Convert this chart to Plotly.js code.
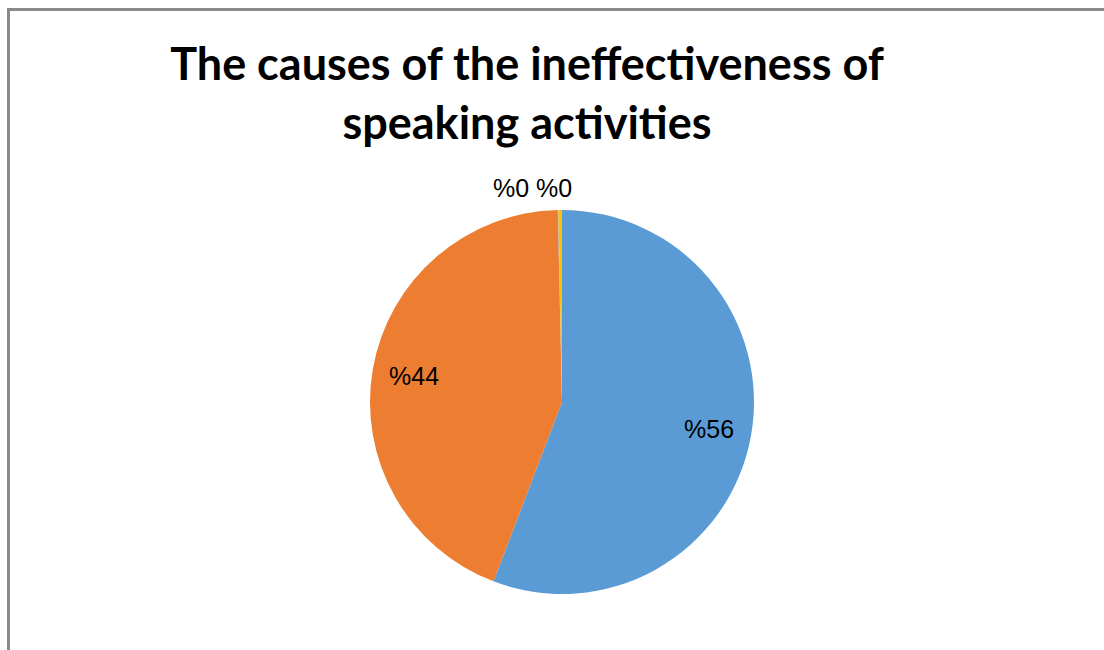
<!DOCTYPE html>
<html>
<head>
<meta charset="utf-8">
<script src="https://cdn.plot.ly/plotly-3.0.1.min.js"></script>
<style>
  html, body { margin: 0; padding: 0; background: #ffffff; overflow: hidden; }
  #frame { position: absolute; left: 7px; top: 8px; width: 1200px; height: 700px;
           border-left: 3px solid #8a8a8a; border-top: 3px solid #8a8a8a; box-sizing: border-box; }
  #chart { position: absolute; left: 0; top: 0; width: 1104px; height: 650px; }
</style>
</head>
<body>
<div id="frame"></div>
<div id="chart"></div>
<script>
const categories = ['Cause 1', 'Cause 2', 'Cause 3', 'Cause 4'];
const values = [56, 44, 0.05, 0.3];
const sliceColors = ['#5B9BD5', '#ED7D31', '#A5A5A5', '#FFC000'];
const chartTitle = 'The causes of the ineffectiveness of<br>speaking activities';

const W = 1104, H = 650;
const dom = { x: [370 / W, 754 / W], y: [56 / H, 440 / H] };
const radiusPx = Math.min((dom.x[1] - dom.x[0]) * W, (dom.y[1] - dom.y[0]) * H) / 2;
const cx = (dom.x[0] + dom.x[1]) / 2;
const cy = (dom.y[0] + dom.y[1]) / 2;

const trace = {
  type: 'pie',
  labels: categories,
  values: values,
  sort: false,
  direction: 'clockwise',
  rotation: 0,
  marker: { colors: sliceColors, line: { width: 0 } },
  textinfo: 'none',
  showlegend: false,
  hoverinfo: 'label+value',
  domain: dom
};

// data labels placed from the slice geometry (mid-angle of each slice)
const total = values.reduce((a, b) => a + b, 0);
const labelFont = { family: 'Liberation Sans, Arial, sans-serif', size: 25, color: '#000000' };
const annotations = [];
let cum = 0;
const small = [];
values.forEach((v, i) => {
  const mid = (cum + v / 2) / total * 2 * Math.PI;
  cum += v;
  const txt = '%' + Math.round(v);
  if (v / total >= 0.01) {
    const rr = 0.78 * radiusPx;
    annotations.push({
      xref: 'paper', yref: 'paper',
      x: cx + rr * Math.sin(mid) / W,
      y: cy + rr * Math.cos(mid) / H,
      text: txt, showarrow: false, font: labelFont,
      xanchor: 'center', yanchor: 'middle'
    });
  } else {
    small.push({ txt: txt, mid: mid });
  }
});
if (small.length) {
  const mid = small.reduce((a, s) => a + s.mid, 0) / small.length;
  const rr = radiusPx + 22;
  annotations.push({
    xref: 'paper', yref: 'paper',
    x: cx + rr * Math.sin(mid) / W,
    y: cy + rr * Math.cos(mid) / H,
    text: small.map(s => s.txt).join(' '), showarrow: false, font: labelFont,
    xanchor: 'center', yanchor: 'middle', xshift: -26
  });
}

const layout = {
  width: W,
  height: H,
  margin: { l: 0, r: 0, t: 0, b: 0 },
  paper_bgcolor: 'rgba(0,0,0,0)',
  plot_bgcolor: 'rgba(0,0,0,0)',
  annotations: annotations,
  title: {
    text: chartTitle,
    x: 527 / W,
    xanchor: 'center',
    xref: 'container',
    y: 1 - 80 / H,
    yanchor: 'top',
    yref: 'container',
    font: { family: 'Lato, sans-serif', size: 45, color: '#000000', weight: 'bold' }
  }
};

Plotly.newPlot('chart', [trace], layout, { displayModeBar: false, staticPlot: true });
</script>
</body>
</html>
